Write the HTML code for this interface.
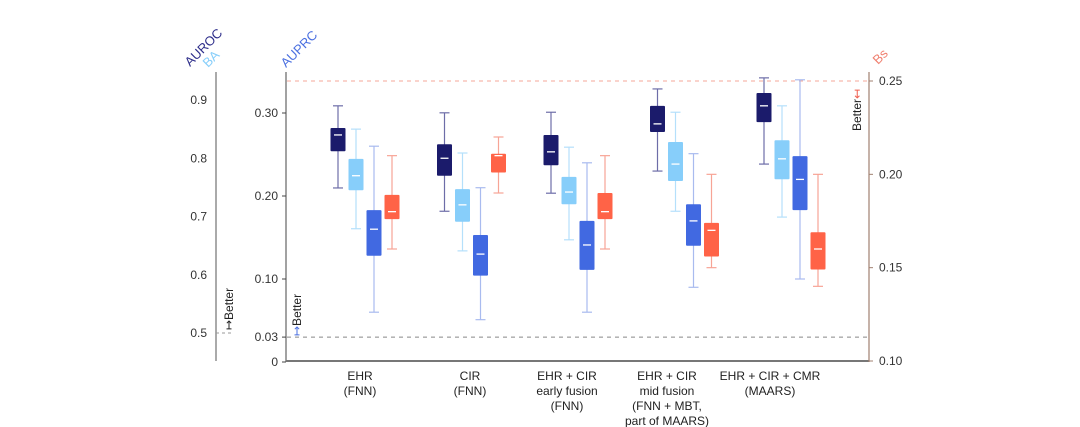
<!DOCTYPE html>
<html><head><meta charset="utf-8"><style>
body{margin:0;background:#fff;}
svg{display:block;font-family:"Liberation Sans",sans-serif;}
</style></head><body>
<svg id="chart" width="1080" height="427" viewBox="0 0 1080 427">
<g id="axes"></g><g id="marks"></g><g id="labels"></g>
</svg>
<script>
const groups = ["EHR|(FNN)","CIR|(FNN)","EHR + CIR|early fusion|(FNN)","EHR + CIR|mid fusion|(FNN + MBT,|part of MAARS)","EHR + CIR + CMR|(MAARS)"];
// [whiskerLow, q1, median, q3, whiskerHigh]
const auroc = [[0.749,0.812,0.840,0.852,0.890],[0.709,0.770,0.800,0.824,0.878],[0.740,0.788,0.811,0.840,0.879],[0.778,0.845,0.859,0.890,0.919],[0.790,0.862,0.890,0.912,0.938]];
const ba = [[0.679,0.745,0.770,0.799,0.850],[0.641,0.691,0.720,0.747,0.809],[0.660,0.721,0.742,0.768,0.819],[0.709,0.761,0.790,0.828,0.879],[0.699,0.764,0.799,0.831,0.890]];
const auprc = [[0.060,0.128,0.160,0.183,0.260],[0.051,0.104,0.130,0.153,0.210],[0.060,0.111,0.141,0.170,0.240],[0.090,0.140,0.170,0.190,0.251],[0.100,0.183,0.220,0.248,0.340]];
const bs = [[0.160,0.176,0.180,0.189,0.210],[0.190,0.201,0.210,0.211,0.220],[0.160,0.176,0.180,0.190,0.210],[0.150,0.156,0.170,0.174,0.200],[0.140,0.149,0.160,0.169,0.200]];
const leftTicks = [0.5,0.6,0.7,0.8,0.9];
const midTicks = [0,0.03,0.10,0.20,0.30];
const rightTicks = [0.10,0.15,0.20,0.25];

const yL = v => 333 - (v-0.5)*582.5;
const yM = v => 362 - v*830;
const yR = v => 361 - (v-0.10)*1866.7;
const xG = i => 365 + i*106.5;

const NS="http://www.w3.org/2000/svg";
function mk(parent,tag,attrs,text){const e=document.createElementNS(NS,tag);for(const k in attrs)e.setAttribute(k,attrs[k]);if(text!==undefined)e.textContent=text;(typeof parent==='string'?document.getElementById(parent):parent).appendChild(e);return e;}

let e;
e=mk('axes','line',{x1:216,y1:72,x2:216,y2:361,stroke:'#555','stroke-width':1});

leftTicks.forEach(t=>{e=mk('axes','text',{x:207,y:yL(t)+4,'text-anchor':'end','font-size':12,fill:'#333'},t.toFixed(1));
});
e=mk('axes','line',{x1:216,y1:333,x2:232,y2:333,stroke:'#999','stroke-dasharray':'3,3'});

e=mk('axes','line',{x1:286,y1:72,x2:286,y2:362,stroke:'#444','stroke-width':1});

midTicks.forEach(t=>{const y=yM(t);mk('axes','line',{x1:282,y1:y,x2:286,y2:y,stroke:'#444'});
e=mk('axes','text',{x:278,y:y+4,'text-anchor':'end','font-size':12,fill:'#333'},t===0?'0':t.toFixed(2));
});
e=mk('axes','line',{x1:286,y1:361,x2:869,y2:361,stroke:'#777','stroke-width':2});

e=mk('axes','line',{x1:869,y1:72,x2:869,y2:362,stroke:'#a08070','stroke-width':1.2});

rightTicks.forEach(t=>{const y=yR(t);mk('axes','line',{x1:869,y1:y,x2:873,y2:y,stroke:'#a08070'});
e=mk('axes','text',{x:879,y:y+4,'font-size':12,fill:'#333'},t.toFixed(2));
});
e=mk('axes','line',{x1:287,y1:yR(0.25),x2:868,y2:yR(0.25),stroke:'#f4a79a','stroke-dasharray':'4,4'});

e=mk('axes','line',{x1:287,y1:yM(0.03),x2:868,y2:yM(0.03),stroke:'#888','stroke-dasharray':'4,4'});


e=mk('labels','text',{x:190,y:67,'font-size':13,fill:'#2d2d8a',transform:'rotate(-45 190 67)'},'AUROC');

e=mk('labels','text',{x:208,y:68,'font-size':13,fill:'#87cefa',transform:'rotate(-45 208 68)'},'BA');

e=mk('labels','text',{x:286,y:68,'font-size':13,fill:'#4a6fe0',transform:'rotate(-45 286 68)'},'AUPRC');

e=mk('labels','text',{x:878,y:65,'font-size':13,fill:'#f08070',transform:'rotate(-45 878 65)'},'Bs');


e=mk('labels','text',{x:233,y:330,'font-size':12,fill:'#222',transform:'rotate(-90 233 330)'},'↦Better');

e=mk('labels','text',{x:301,y:336,'font-size':12,fill:'#222',transform:'rotate(-90 301 336)'});

mk(e,'tspan',{fill:'#4a6fe0'},'↦');mk(e,'tspan',{},'Better');
e=mk('labels','text',{x:861,y:131,'font-size':12,fill:'#222',transform:'rotate(-90 861 131)'});

mk(e,'tspan',{},'Better');mk(e,'tspan',{fill:'#f06050'},'↤');

const labelX=[360,470,567,667,770];
groups.forEach((g,i)=>{g.split('|').forEach((ln,j)=>{e=mk('labels','text',{x:labelX[i],y:380+j*15,'text-anchor':'middle','font-size':12,fill:'#222'},ln);
});});

const series=[{d:auroc,s:yL,off:-27,fill:'#1b1b6b',wh:'#6d6da8',name:'auroc'},
{d:ba,s:yL,off:-9,fill:'#87cefa',wh:'#b5e0fb',name:'ba'},
{d:auprc,s:yM,off:9,fill:'#4169e1',wh:'#a9bbef',name:'auprc'},
{d:bs,s:yR,off:27,fill:'#ff6347',wh:'#f7a496',name:'bs'}];
series.forEach(S=>{S.d.forEach((v,i)=>{const x=xG(i)+S.off,w=15;
const [lo,q1,md,q3,hi]=v.map(S.s);
mk('marks','line',{x1:x,y1:hi,x2:x,y2:lo,stroke:S.wh,'stroke-width':1.2});
mk('marks','line',{x1:x-5,y1:hi,x2:x+5,y2:hi,stroke:S.wh,'stroke-width':1.2});
mk('marks','line',{x1:x-5,y1:lo,x2:x+5,y2:lo,stroke:S.wh,'stroke-width':1.2});
const r=mk('marks','rect',{x:x-w/2,y:q3,width:w,height:q1-q3,fill:S.fill,rx:1});


mk('marks','line',{x1:x-4,y1:md,x2:x+4,y2:md,stroke:'#fff','stroke-width':1.3});
});});
</script>
</body></html>
